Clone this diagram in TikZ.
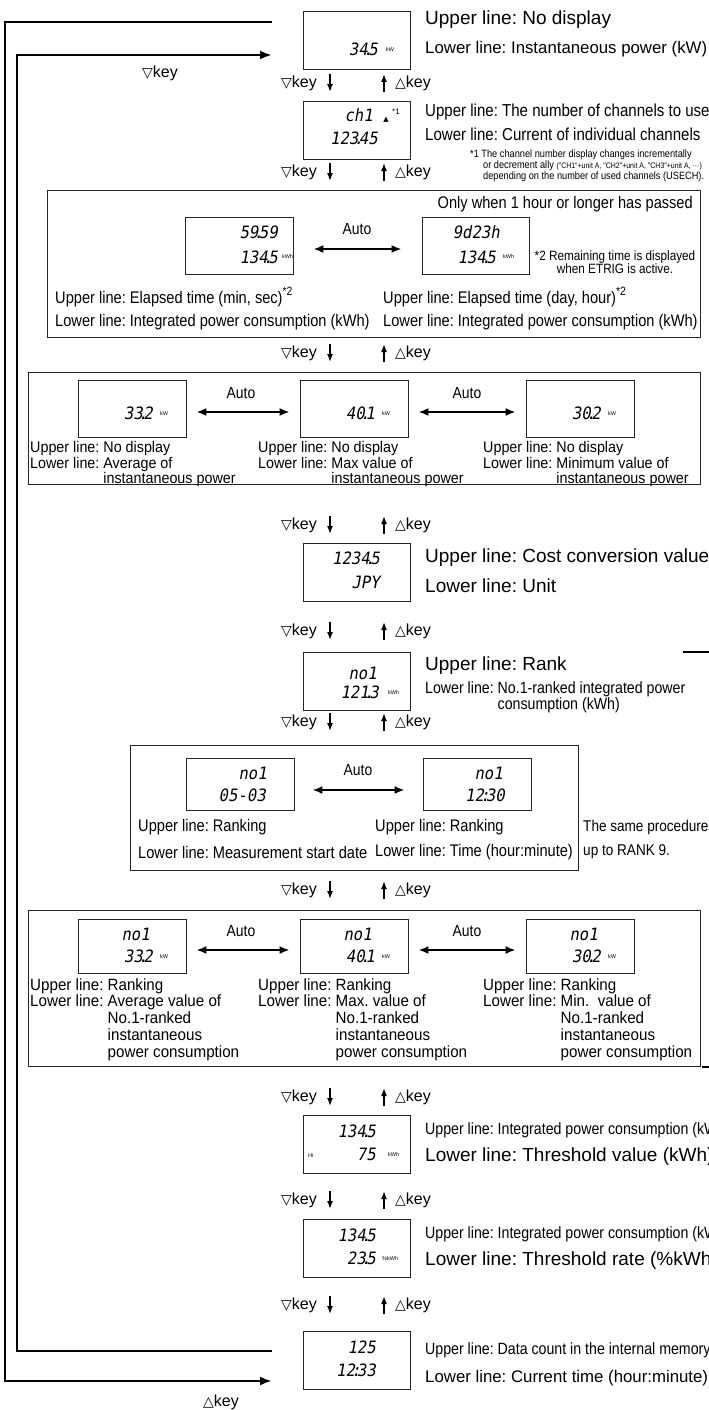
\documentclass[tikz,border=0pt]{standalone}
\usepackage{fontspec}
\setmainfont{Liberation Sans}
\newfontfamily\narrowfont[FakeStretch=0.87]{Liberation Sans}
\newfontfamily\semifont[FakeStretch=0.93]{Liberation Sans}
\newfontfamily\segfont[FakeSlant=0.18,FakeStretch=0.92]{DejaVu Sans Mono}
\newfontfamily\symfont{DejaVu Sans}
\usetikzlibrary{arrows.meta,positioning,calc}
\frenchspacing
\newcommand{\segdot}{\kern-.26em.\kern-.26em}
\newcommand{\segcol}{\kern-.22em:\kern-.22em}
\newcommand{\dnkey}{{\symfont\fontsize{14}{14}\selectfont ▽}key}
\newcommand{\upkey}{{\symfont\fontsize{14}{14}\selectfont △}key}
\newcommand{\startwo}{\raisebox{.45em}{\fontsize{12}{12}\selectfont *2}}

\begin{document}
\begin{tikzpicture}[x=1pt, y=-1pt,
  lcd/.style={draw=black!85, line width=0.8pt, minimum width=107pt,
              minimum height=58pt, inner sep=0pt},
  group/.style={draw=black!85, line width=0.8pt, inner sep=0pt, anchor=north west},
  seg/.style={font=\segfont\fontsize{17}{17}\selectfont, inner sep=0pt, anchor=base east},
  unit/.style={font=\fontsize{5.5}{6}\selectfont, inner sep=0pt, anchor=base west},
  big/.style={font=\fontsize{19}{20}\selectfont, inner sep=0pt, anchor=west},
  mid/.style={font=\fontsize{16.8}{18}\selectfont, inner sep=0pt, anchor=west},
  cond/.style={font=\narrowfont\fontsize{17.3}{18}\selectfont, inner sep=0pt, anchor=west},
  small/.style={font=\narrowfont\fontsize{16.3}{15}\selectfont, inner sep=0pt, anchor=west},
  desc/.style={font=\narrowfont\fontsize{16.8}{18}\selectfont, inner sep=0pt, anchor=west},
  desclist/.style={font=\semifont\fontsize{15.4}{15.4}\selectfont, inner sep=0pt,
                   anchor=north west, align=left},
  note/.style={font=\narrowfont\fontsize{10.6}{11}\selectfont, inner sep=0pt, anchor=west},
  keytext/.style={font=\fontsize{16}{16}\selectfont, inner sep=0pt},
  keyarrow/.style={-{Latex[length=8pt,width=6pt]}, line width=1.5pt},
  autotext/.style={font=\narrowfont\fontsize{16}{16}\selectfont, inner sep=0pt},
  autoarrow/.style={{Latex[length=10pt,width=8pt]}-{Latex[length=10pt,width=8pt]},
                    line width=2.4pt, shorten <=#1, shorten >=#1},
  autoarrow/.default=18pt,
  loop/.style={line width=2.5pt},
  loopin/.style={loop, -{Latex[length=12pt,width=9pt]}},
]
  \useasboundingbox (0,0) rectangle (709,1410);

  %% Return loops on the left
  \coordinate (lpo1) at (272,22);
  \coordinate (lpo2) at (272,1381);
  \coordinate (lpi1) at (272,55);
  \coordinate (lpi2) at (272,1351);
  \draw[loopin] (lpo1) -- (5,22) -- (5,1381) -- (lpo2);
  \draw[loopin] (lpi2) -- (17,1351) -- (17,55) -- (lpi1);
  \node[keytext] (lpdn) at (160,73) {\dnkey};
  \node[keytext] (lpup) at (221,1402) {\upkey};

  %% Key rows between the screens
  \foreach \y [count=\i] in {83,172,353,525,631,722,890,1097,1200,1305} {
    \node[keytext, anchor=east] (kdn\i) at (317,\y) {\dnkey};
    \node[keytext, anchor=west] (kup\i) at (395,\y) {\upkey};
    \coordinate (kdt\i) at (330,\y-9);
    \coordinate (kdb\i) at (330,\y+9);
    \coordinate (kut\i) at (384,\y-9);
    \coordinate (kub\i) at (384,\y+9);
    \draw[keyarrow] (kdt\i) -- (kdb\i);
    \draw[keyarrow] (kub\i) -- (kut\i);
  }

  %% Screen 1: instantaneous power
  \node[lcd] (b1) at (356.5,40) {};
  \node[seg] (b1lo) at (378,56) {34\segdot5};
  \node[unit] (b1u) at (386,52) {kW};
  \node[big] (b1t1) at (425,20) {Upper line: No display};
  \node[mid] (b1t2) at (425,49) {Lower line: Instantaneous power (kW)};

  %% Screen 2: channel current
  \node[lcd] (b2) at (356.5,130) {};
  \node[seg] (b2up) at (373,122) {ch1};
  \node[seg] (b2lo) at (378,144) {123\segdot45};
  \node[inner sep=0pt, font=\symfont\fontsize{7}{7}\selectfont] (b2tri) at (386,120) {▲};
  \node[inner sep=0pt, font=\fontsize{8}{8}\selectfont] (b2star) at (396,112) {*1};
  \node[cond] (b2t1) at (425,112) {Upper line: The number of channels to use};
  \node[cond] (b2t2) at (425,134) {Lower line: Current of individual channels};
  \node[note] (b2n1) at (470,155) {*1 The channel number display changes incrementally};
  \node[note] (b2n2) at (483,166)
    {or decrement ally {\fontsize{8}{8}\selectfont("CH1"+unit A, "CH2"+unit A, "CH3"+unit A, ···)}};
  \node[note] (b2n3) at (483,177) {depending on the number of used channels (USECH).};

  %% Group 3: elapsed time
  \node[group, minimum width=653pt, minimum height=147pt] (g3) at (47,190) {};
  \node[desc, anchor=east] (g3hd) at (693,204) {Only when 1 hour or longer has passed};
  \node[lcd, minimum width=108pt, minimum height=57pt] (d3a) at (239,246) {};
  \node[lcd, minimum width=107pt, minimum height=57pt] (d3b) at (475.5,246) {};
  \node[seg] (d3aup) at (278,238) {59\segdot59};
  \node[seg] (d3alo) at (278,263) {134\segdot5};
  \node[unit] (d3au) at (282,258) {kWh};
  \node[seg] (d3bup) at (500,238) {9d23h};
  \node[seg] (d3blo) at (496,263) {134\segdot5};
  \node[unit] (d3bu) at (503,258) {kWh};
  \node[autotext] (a3) at (357,229) {Auto};
  \draw[autoarrow=20pt] ([yshift=-3pt]d3a.east) -- ([yshift=-3pt]d3b.west);
  \node[note, font=\narrowfont\fontsize{13.5}{13}\selectfont, align=center,
        anchor=center] (g3nt) at (615,262)
    {*2 Remaining time is displayed\\when ETRIG is active.};
  \node[desc] (g3t1) at (55,297) {Upper line: Elapsed time (min, sec)\startwo};
  \node[desc] (g3t2) at (55,322) {Lower line: Integrated power consumption (kWh)};
  \node[desc] (g3t3) at (383,297) {Upper line: Elapsed time (day, hour)\startwo};
  \node[desc] (g3t4) at (383,322) {Lower line: Integrated power consumption (kWh)};

  %% Group 4: average / max / min power
  \node[group, minimum width=672pt, minimum height=112pt] (g4) at (28,372) {};
  \node[lcd, minimum width=108pt, minimum height=57pt] (d4a) at (132,409) {};
  \node[lcd, minimum width=108pt, minimum height=57pt] (d4b) at (354,409) {};
  \node[lcd, minimum width=108pt, minimum height=57pt] (d4c) at (580,409) {};
  \node[seg] (d4alo) at (153,419) {33\segdot2};
  \node[unit] (d4au) at (160,415) {kW};
  \node[seg] (d4blo) at (375,419) {40\segdot1};
  \node[unit] (d4bu) at (382,415) {kW};
  \node[seg] (d4clo) at (601,419) {30\segdot2};
  \node[unit] (d4cu) at (608,415) {kW};
  \node[autotext] (a4a) at (241,393) {Auto};
  \node[autotext] (a4b) at (467,393) {Auto};
  \draw[autoarrow=10pt] ([yshift=-3pt]d4a.east) -- ([yshift=-3pt]d4b.west);
  \draw[autoarrow=10pt] ([yshift=-3pt]d4b.east) -- ([yshift=-3pt]d4c.west);
  \node[desclist] (g4t1) at (30,441) {\begin{tabular}{@{}l@{\ }l@{}}
    Upper line: & No display\\ Lower line: & Average of\\ & instantaneous power\end{tabular}};
  \node[desclist] (g4t2) at (258,441) {\begin{tabular}{@{}l@{\ }l@{}}
    Upper line: & No display\\ Lower line: & Max value of\\ & instantaneous power\end{tabular}};
  \node[desclist] (g4t3) at (483,441) {\begin{tabular}{@{}l@{\ }l@{}}
    Upper line: & No display\\ Lower line: & Minimum value of\\ & instantaneous power\end{tabular}};

  %% Screen 5: cost conversion
  \node[lcd] (b5) at (356.5,572) {};
  \node[seg] (b5up) at (380,564) {1234\segdot5};
  \node[seg] (b5lo) at (380,588) {JPY};
  \node[big] (b5t1) at (425,558) {Upper line: Cost conversion value};
  \node[big] (b5t2) at (425,586) {Lower line: Unit};

  %% Screen 6: rank
  \node[lcd] (b6) at (356.5,681) {};
  \node[seg] (b6up) at (377,679) {no1};
  \node[seg] (b6lo) at (379,698) {121\segdot3};
  \node[unit] (b6u) at (388,694) {kWh};
  \node[big] (b6t1) at (425,666) {Upper line: Rank};
  \node[small, anchor=north west, align=left] (b6t2) at (425,681)
    {\begin{tabular}{@{}l@{\ }l@{}}Lower line: & No.1-ranked integrated power\\
     & consumption (kWh)\end{tabular}};
  \draw[line width=1.5pt] (683,652) -- (730,652) -- (730,1067) -- (702,1067);

  %% Group 7: ranking date and time
  \node[group, minimum width=448pt, minimum height=125pt] (g7) at (130,745) {};
  \node[lcd, minimum width=108pt, minimum height=52pt] (d7a) at (240,784) {};
  \node[lcd, minimum width=108pt, minimum height=52pt] (d7b) at (477,784) {};
  \node[seg] (d7aup) at (267,779) {no1};
  \node[seg] (d7alo) at (266,801) {05-03};
  \node[seg] (d7bup) at (503,779) {no1};
  \node[seg] (d7blo) at (505,801) {12\segcol30};
  \node[autotext] (a7) at (358,770) {Auto};
  \draw[autoarrow=18pt] ([yshift=-6pt]d7a.east) -- ([yshift=-6pt]d7b.west);
  \node[desc] (g7t1) at (138,827) {Upper line: Ranking};
  \node[desc] (g7t2) at (138,852) {Lower line: Measurement start date};
  \node[desc] (g7t3) at (375,827) {Upper line: Ranking};
  \node[desc] (g7t4) at (375,852) {Lower line: Time (hour:minute)};
  \node[desc, font=\narrowfont\fontsize{15.6}{17}\selectfont] (g7s1) at (583,827)
    {The same procedure};
  \node[desc, font=\narrowfont\fontsize{15.6}{17}\selectfont] (g7s2) at (583,852)
    {up to RANK 9.};

  %% Group 8: ranking average / max / min
  \node[group, minimum width=672pt, minimum height=156pt] (g8) at (28,910) {};
  \node[lcd, minimum width=108pt, minimum height=54pt] (d8a) at (132,946) {};
  \node[lcd, minimum width=108pt, minimum height=54pt] (d8b) at (354,946) {};
  \node[lcd, minimum width=108pt, minimum height=54pt] (d8c) at (580,946) {};
  \node[seg] (d8aup) at (150,940) {no1};
  \node[seg] (d8alo) at (153,962) {33\segdot2};
  \node[unit] (d8au) at (160,958) {kW};
  \node[seg] (d8bup) at (372,940) {no1};
  \node[seg] (d8blo) at (375,962) {40\segdot1};
  \node[unit] (d8bu) at (382,958) {kW};
  \node[seg] (d8cup) at (598,940) {no1};
  \node[seg] (d8clo) at (601,962) {30\segdot2};
  \node[unit] (d8cu) at (608,958) {kW};
  \node[autotext] (a8a) at (241,931) {Auto};
  \node[autotext] (a8b) at (467,931) {Auto};
  \draw[autoarrow=10pt] ([yshift=-4pt]d8a.east) -- ([yshift=-4pt]d8b.west);
  \draw[autoarrow=10pt] ([yshift=-4pt]d8b.east) -- ([yshift=-4pt]d8c.west);
  \node[desclist, font=\semifont\fontsize{16.3}{16.6}\selectfont] (g8t1) at (30,978)
    {\begin{tabular}{@{}l@{\ }l@{}}Upper line: & Ranking\\ Lower line: & Average value of\\
     & No.1-ranked\\ & instantaneous\\ & power consumption\end{tabular}};
  \node[desclist, font=\semifont\fontsize{16.3}{16.6}\selectfont] (g8t2) at (258,978)
    {\begin{tabular}{@{}l@{\ }l@{}}Upper line: & Ranking\\ Lower line: & Max. value of\\
     & No.1-ranked\\ & instantaneous\\ & power consumption\end{tabular}};
  \node[desclist, font=\semifont\fontsize{16.3}{16.6}\selectfont] (g8t3) at (483,978)
    {\begin{tabular}{@{}l@{\ }l@{}}Upper line: & Ranking\\ Lower line: & Min.\ \ value of\\
     & No.1-ranked\\ & instantaneous\\ & power consumption\end{tabular}};

  %% Screen 9: threshold value
  \node[lcd] (b9) at (356.5,1144) {};
  \node[seg] (b9up) at (376,1137) {134\segdot5};
  \node[seg] (b9lo) at (376,1160) {75};
  \node[unit] (b9hi) at (308,1157) {Hi};
  \node[unit] (b9u) at (388,1156) {kWh};
  \node[small] (b9t1) at (425,1130) {Upper line: Integrated power consumption (kWh)};
  \node[big] (b9t2) at (425,1157) {Lower line: Threshold value (kWh)};

  %% Screen 10: threshold rate
  \node[lcd] (b10) at (356.5,1248) {};
  \node[seg] (b10up) at (376,1241) {134\segdot5};
  \node[seg] (b10lo) at (376,1264) {23\segdot5};
  \node[unit] (b10u) at (382,1260) {\%kWh};
  \node[small] (b10t1) at (425,1234) {Upper line: Integrated power consumption (kWh)};
  \node[big] (b10t2) at (425,1261) {Lower line: Threshold rate (\%kWh)};

  %% Screen 11: data count and clock
  \node[lcd] (b11) at (356.5,1360) {};
  \node[seg] (b11up) at (376,1353) {125};
  \node[seg] (b11lo) at (376,1376) {12\segcol33};
  \node[small] (b11t1) at (425,1350) {Upper line: Data count in the internal memory};
  \node[mid] (b11t2) at (425,1378) {Lower line: Current time (hour:minute)};

\end{tikzpicture}
\end{document}
